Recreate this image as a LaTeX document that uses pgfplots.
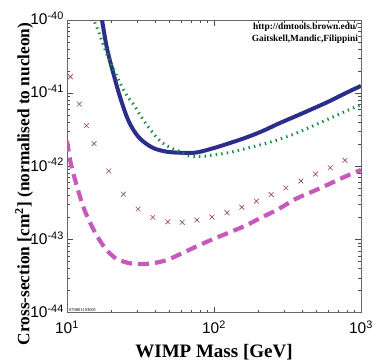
\documentclass[border=0pt]{standalone}
\usepackage{fontspec}
\setmainfont{Liberation Serif}
\setsansfont{Liberation Sans}
\usepackage{pgfplots}
\pgfplotsset{compat=1.18}
\definecolor{cblue}{RGB}{44,46,140}
\definecolor{cgreen}{RGB}{20,140,60}
\definecolor{cmag}{RGB}{200,88,188}
\definecolor{cx}{RGB}{145,70,85}
\newcommand{\tl}[1]{\sffamily 10\textsuperscript{#1}}
\begin{document}
\begin{tikzpicture}
\begin{axis}[
  scale only axis, width=294pt, height=292.7pt,
  xmode=log, ymode=log,
  xmin=10, xmax=1000, ymin=1e-44, ymax=1e-40,
  xtick={10,100,1000},
  xticklabels={{\tl{1}},{\tl{2}},{\tl{3}}},
  ytick={1e-44,1e-43,1e-42,1e-41,1e-40},
  yticklabels={{\tl{-44}},{\tl{-43}},{\tl{-42}},{\tl{-41}},{\tl{-40}}},
  tick align=inside,
  major tick length=6pt, minor tick length=3pt,
  every tick/.style={black!70, line width=0.5pt},
  axis line style={black!60, line width=0.8pt},
  ticklabel style={font=\sffamily\fontsize{15.5}{15.5}\selectfont},
  xticklabel style={inner sep=1pt, yshift=-7pt},
  yticklabel style={inner sep=1pt, xshift=-2pt, yshift=1.5pt},
  xlabel={\bfseries WIMP Mass [GeV]},
  xlabel style={font=\fontsize{19}{19}\selectfont, at={(axis description cs:0.5,0)}, anchor=north, inner sep=0pt, yshift=-31pt},
  ylabel={\bfseries Cross-section [cm\textsuperscript{2}] (normalised to nucleon)},
  ylabel style={font=\fontsize{17.3}{17.3}\selectfont, at={(axis description cs:-0.115,0.44)}, anchor=south, inner sep=0pt},
  clip mode=individual,
]
% blue solid
\addplot[cblue, line width=4pt, smooth, tension=0.55, line join=round] coordinates {
 (16.9,1.2e-40) (17.3,1.0e-40) (18.71,4.09e-41) (20.80,1.78e-41) (23.07,8.59e-42)
 (26.30,4.13e-42) (30.76,2.50e-42) (37.84,1.82e-42) (46.67,1.60e-42)
 (57.54,1.54e-42) (74.64,1.54e-42) (96.83,1.75e-42) (125.9,2.06e-42)
 (163.7,2.46e-42) (212.3,3.02e-42) (275.4,3.85e-42) (358.1,4.83e-42)
 (464.5,6.08e-42) (603.9,7.71e-42) (783.4,1.00e-41) (1000,1.26e-41)
};
% green dotted
\addplot[cgreen, line width=3pt, smooth, tension=0.5, dash pattern=on 1.4pt off 4.2pt] coordinates {
 (15.0,1.1e-40) (15.21,1.0e-40) (16.44,6.87e-41) (17.50,4.79e-41) (19.23,2.99e-41)
 (21.88,1.69e-41) (24.95,1.00e-41) (28.44,6.97e-42) (32.36,4.59e-42)
 (36.90,3.18e-42) (43.15,2.21e-42) (50.47,1.80e-42) (57.54,1.62e-42)
 (67.30,1.40e-42) (79.4,1.36e-42) (96.83,1.42e-42) (125.9,1.54e-42)
 (163.7,1.75e-42) (212.3,2.00e-42) (275.4,2.33e-42) (358.1,2.81e-42)
 (464.5,3.53e-42) (603.9,4.46e-42) (783.4,5.65e-42) (1000,6.97e-42)
};
% magenta dashed
\addplot[cmag, line width=4.2pt, smooth, tension=0.5, dash pattern=on 11pt off 6pt] coordinates {
 (10,2.24e-42) (10.59,1.12e-42) (11.75,5.13e-43) (13.18,2.51e-43)
 (15.49,1.26e-43) (18.20,7.59e-44) (21.53,5.50e-44) (25.12,4.90e-44)
 (27.99,4.68e-44) (36.39,4.68e-44) (47.10,5.20e-44) (59.70,6.41e-44)
 (74.64,7.91e-44) (96.83,1.00e-43) (125.9,1.24e-43) (163.7,1.55e-43)
 (212.3,2.02e-43) (275.4,2.62e-43) (358.1,3.58e-43) (464.5,4.50e-43)
 (603.9,5.71e-43) (783.4,7.28e-43) (1000,8.93e-43)
};
% crosses
\addplot[only marks, mark=x, mark size=3.4pt, cx, mark options={line width=0.6pt}] coordinates {
 (10.54,1.68e-41) (12.13,7.10e-42) (13.55,3.61e-42) (15.28,2.05e-42)
 (19.23,8.65e-43) (24.21,4.17e-43) (30.48,2.61e-43) (38.37,2.01e-43)
 (48.53,1.75e-43) (60.81,1.72e-43) (76.56,1.85e-43) (96.83,2.03e-43)
 (122.7,2.33e-43) (154.5,2.77e-43) (194.5,3.35e-43) (244.9,4.12e-43)
 (308.3,5.08e-43) (390.0,6.32e-43) (490.9,7.87e-43) (618.0,9.59e-43)
 (778.0,1.21e-42)
};
\node[anchor=north east, align=right, inner sep=0pt, font=\bfseries\fontsize{9.4}{12}\selectfont]
  at (rel axis cs:0.99,0.99) {http://dmtools.brown.edu/\\Gaitskell,Mandic,Filippini};
\node[anchor=south west, inner sep=0.5pt, font=\fontsize{4.5}{5}\selectfont]
  at (rel axis cs:0.005,0.003) {070801193001};
\end{axis}
\pgfresetboundingbox
\path[use as bounding box] (-67pt,-49.3pt) rectangle (306pt,312.7pt);
\end{tikzpicture}
\end{document}
